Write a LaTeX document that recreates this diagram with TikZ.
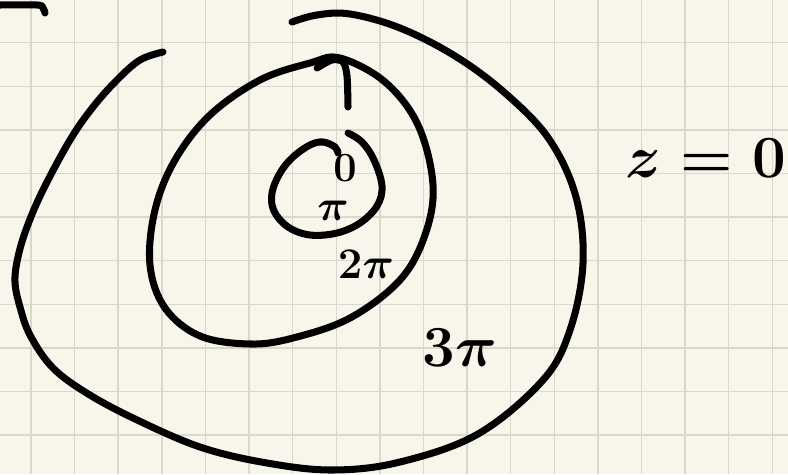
\documentclass[tikz,border=0pt]{standalone}
\usepackage{xcolor}
\usepackage{amsmath}
\usepackage{tikz}
\definecolor{paper}{HTML}{F8F6EA}
\definecolor{rule}{HTML}{DAD8CD}
\tikzset{
  gridrule/.style={draw=rule, line width=0.8pt},
  inkstroke/.style={
    draw=black, line width=4pt, line cap=round, line join=round},
  inklabel/.style={
    text=black, inner sep=0pt, font=\Huge\boldmath},
}

\begin{document}
\begin{tikzpicture}[x=0.02cm, y=-0.02cm]
  \useasboundingbox (0,0) rectangle (788,474);
  \fill[paper] (0,0) rectangle (788,474);
  \foreach \gx in {0,...,17}
    \draw[gridrule] ({31+43.6*\gx},0) -- ({31+43.6*\gx},474);
  \foreach \gy in {1,...,10}
    \draw[gridrule] (0,{-1+43.6*\gy}) -- (788,{-1+43.6*\gy});

  \draw[inkstroke] plot[smooth, tension=0.6] coordinates {
    (0,5) (37,5) (43,8) (45,13)};
  \draw[inkstroke] plot[smooth, tension=0.6] coordinates {
    (163,52) (140,60) (117,80) (93,107) (70,140) (43,190) (27,227)
    (18,257) (15,282) (20,307) (30,335) (52,367) (85,392) (133,418)
    (200,447) (267,463) (333,470) (400,462) (478,434) (543,380)
    (570,330) (583,263) (576,197) (549,139) (505,93) (455,56)
    (400,28) (350,14) (317,15) (292,22)};
  \draw[inkstroke] plot[smooth cycle, tension=0.6] coordinates {
    (340,58) (385,82) (418,125) (433,185) (425,235) (400,280)
    (350,318) (293,338) (250,344) (200,336) (165,308) (150,265)
    (155,210) (175,160) (210,115) (260,80) (310,63)};
  \draw[inkstroke] plot[smooth, tension=0.5] coordinates {
    (317,68) (332,60) (343,62) (347,76) (348,107)};
  \draw[inkstroke] plot[smooth, tension=0.6] coordinates {
    (338,153) (335,147) (323,142) (310,145) (293,157) (280,173)
    (272,193) (274,211) (288,227) (310,235) (337,233) (360,223)
    (377,206) (382,186) (374,160) (362,142) (348,133)};

  \node[inklabel, scale=0.95] (origin) at (345,168) {$0$};
  \node[inklabel] (onepi) at (333,211) {$\pi$};
  \node[inklabel] (twopi) at (366,264) {$2\pi$};
  \node[inklabel, scale=1.33] (threepi) at (460,348) {$3\pi$};
  \node[inklabel, scale=1.37] (zlevel) at (706,158) {$z=0$};
\end{tikzpicture}
\end{document}
